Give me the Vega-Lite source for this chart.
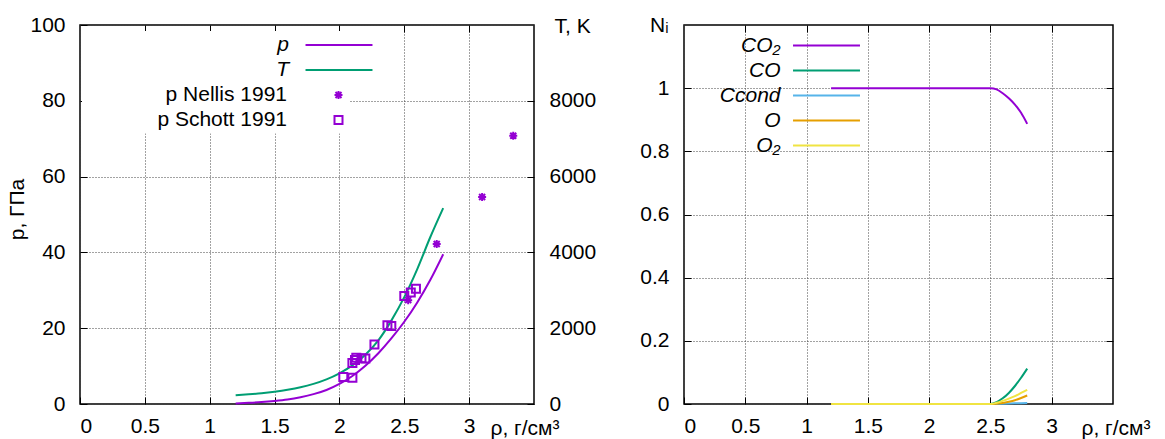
{
  "$schema": "https://vega.github.io/schema/vega-lite/v6.json",
  "padding": {"left": 5, "top": 13, "right": 0, "bottom": 0},
  "background": "white",
  "spacing": 42,
  "resolve": {"scale": {"color": "independent", "shape": "independent"}, "legend": {"color": "independent", "shape": "independent"}},
  "config": {
    "font": "Liberation Sans",
    "view": {"stroke": "black", "strokeWidth": 1.5},
    "axis": {
      "labelFont": "Liberation Sans", "labelFontSize": 21, "labelColor": "black",
      "titleFont": "Liberation Sans", "titleFontSize": 21, "titleFontWeight": "normal", "titleColor": "black",
      "domain": false, "tickColor": "black", "tickSize": -7, "tickWidth": 1,
      "gridColor": "#444", "gridDash": [1, 2], "gridWidth": 1
    },
    "legend": {"labelFont": "Liberation Sans", "labelFontSize": 21, "labelColor": "black"}
  },
  "datasets": {
    "pt": [
      {"rho": 1.2, "p": 0.15, "T": 230}, {"rho": 1.3, "p": 0.3, "T": 255}, {"rho": 1.4, "p": 0.5, "T": 285},
      {"rho": 1.5, "p": 0.8, "T": 325}, {"rho": 1.6, "p": 1.2, "T": 375}, {"rho": 1.7, "p": 1.8, "T": 440},
      {"rho": 1.8, "p": 2.6, "T": 530}, {"rho": 1.9, "p": 3.7, "T": 650}, {"rho": 2.0, "p": 5.3, "T": 810},
      {"rho": 2.1, "p": 7.4, "T": 1020}, {"rho": 2.2, "p": 10.1, "T": 1300}, {"rho": 2.3, "p": 13.4, "T": 1680},
      {"rho": 2.4, "p": 17.3, "T": 2200}, {"rho": 2.5, "p": 21.7, "T": 2820}, {"rho": 2.6, "p": 26.8, "T": 3560},
      {"rho": 2.7, "p": 32.7, "T": 4400}, {"rho": 2.8, "p": 39.5, "T": 5170}
    ],
    "exp": [
      {"rho": 2.53, "p": 27.4, "src": "p Nellis 1991"},
      {"rho": 2.75, "p": 42.2, "src": "p Nellis 1991"},
      {"rho": 3.1, "p": 54.6, "src": "p Nellis 1991"},
      {"rho": 3.34, "p": 70.8, "src": "p Nellis 1991"},
      {"rho": 2.03, "p": 7.1, "src": "p Schott 1991"},
      {"rho": 2.1, "p": 6.9, "src": "p Schott 1991"},
      {"rho": 2.1, "p": 10.8, "src": "p Schott 1991"},
      {"rho": 2.12, "p": 11.6, "src": "p Schott 1991"},
      {"rho": 2.13, "p": 12.2, "src": "p Schott 1991"},
      {"rho": 2.17, "p": 12.1, "src": "p Schott 1991"},
      {"rho": 2.2, "p": 12.0, "src": "p Schott 1991"},
      {"rho": 2.27, "p": 15.7, "src": "p Schott 1991"},
      {"rho": 2.37, "p": 20.8, "src": "p Schott 1991"},
      {"rho": 2.4, "p": 20.6, "src": "p Schott 1991"},
      {"rho": 2.5, "p": 28.5, "src": "p Schott 1991"},
      {"rho": 2.55, "p": 29.4, "src": "p Schott 1991"},
      {"rho": 2.59, "p": 30.4, "src": "p Schott 1991"}
    ],
    "ni": [
      {"rho": 1.2, "s": "CO₂", "N": 1}, {"rho": 1.5, "s": "CO₂", "N": 1}, {"rho": 2.0, "s": "CO₂", "N": 1},
      {"rho": 2.5, "s": "CO₂", "N": 1}, {"rho": 2.55, "s": "CO₂", "N": 0.996}, {"rho": 2.6, "s": "CO₂", "N": 0.984},
      {"rho": 2.65, "s": "CO₂", "N": 0.968}, {"rho": 2.7, "s": "CO₂", "N": 0.948}, {"rho": 2.75, "s": "CO₂", "N": 0.922},
      {"rho": 2.8, "s": "CO₂", "N": 0.887},
      {"rho": 1.2, "s": "CO", "N": 0}, {"rho": 1.5, "s": "CO", "N": 0}, {"rho": 2.0, "s": "CO", "N": 0},
      {"rho": 2.5, "s": "CO", "N": 0}, {"rho": 2.55, "s": "CO", "N": 0.006}, {"rho": 2.6, "s": "CO", "N": 0.018},
      {"rho": 2.65, "s": "CO", "N": 0.035}, {"rho": 2.7, "s": "CO", "N": 0.057}, {"rho": 2.75, "s": "CO", "N": 0.083},
      {"rho": 2.8, "s": "CO", "N": 0.112},
      {"rho": 1.2, "s": "Ccond", "N": 0}, {"rho": 1.5, "s": "Ccond", "N": 0}, {"rho": 2.0, "s": "Ccond", "N": 0},
      {"rho": 2.5, "s": "Ccond", "N": 0}, {"rho": 2.6, "s": "Ccond", "N": 0.001}, {"rho": 2.7, "s": "Ccond", "N": 0.002},
      {"rho": 2.8, "s": "Ccond", "N": 0.003},
      {"rho": 1.2, "s": "O", "N": 0}, {"rho": 1.5, "s": "O", "N": 0}, {"rho": 2.0, "s": "O", "N": 0},
      {"rho": 2.5, "s": "O", "N": 0}, {"rho": 2.55, "s": "O", "N": 0.001}, {"rho": 2.6, "s": "O", "N": 0.003},
      {"rho": 2.65, "s": "O", "N": 0.007}, {"rho": 2.7, "s": "O", "N": 0.012}, {"rho": 2.75, "s": "O", "N": 0.019},
      {"rho": 2.8, "s": "O", "N": 0.027},
      {"rho": 1.2, "s": "O₂", "N": 0}, {"rho": 1.5, "s": "O₂", "N": 0}, {"rho": 2.0, "s": "O₂", "N": 0},
      {"rho": 2.5, "s": "O₂", "N": 0}, {"rho": 2.55, "s": "O₂", "N": 0.004}, {"rho": 2.6, "s": "O₂", "N": 0.01},
      {"rho": 2.65, "s": "O₂", "N": 0.017}, {"rho": 2.7, "s": "O₂", "N": 0.025}, {"rho": 2.75, "s": "O₂", "N": 0.035},
      {"rho": 2.8, "s": "O₂", "N": 0.045}
    ]
  },
  "hconcat": [
    {
      "width": 454, "height": 379,
      "layer": [
        {
          "data": {"name": "pt"},
          "mark": {"type": "line", "strokeWidth": 2, "interpolate": "monotone"},
          "encoding": {
            "x": {"field": "rho", "type": "quantitative",
              "scale": {"domain": [0, 3.5], "nice": false, "zero": false},
              "axis": {"orient": "bottom", "values": [0, 0.5, 1, 1.5, 2, 2.5, 3], "format": "~g", "grid": true, "labelPadding": 18,
                "title": "ρ, г/см³", "titleX": 410, "titleY": 24, "titleAlign": "left", "titleBaseline": "middle", "titleAngle": 0}},
            "y": {"field": "p", "type": "quantitative",
              "scale": {"domain": [0, 100], "nice": false},
              "axis": {"orient": "left", "values": [0, 20, 40, 60, 80, 100], "format": "d", "grid": true, "labelPadding": 22,
                "title": "p, ГПа", "titleX": -63, "titleY": 184, "titleAngle": -90, "titleAlign": "center", "titleBaseline": "middle"}},
            "color": {"datum": "p", "type": "nominal",
              "scale": {"domain": ["p", "T"], "range": ["#9400d3", "#009e73"]},
              "legend": {"orient": "none", "legendX": 2, "legendY": 6, "padding": 3, "fillColor": "white", "title": null,
                "labelAlign": "right", "labelOffset": -61, "symbolOffset": 243, "symbolType": "M-3.5,0L3.5,0",
                "symbolSize": 366, "symbolStrokeWidth": 2, "labelFontStyle": "italic", "rowPadding": 4}}
          }
        },
        {
          "data": {"name": "pt"},
          "mark": {"type": "line", "strokeWidth": 2, "interpolate": "monotone"},
          "encoding": {
            "x": {"field": "rho", "type": "quantitative",
              "scale": {"domain": [0, 3.5], "nice": false, "zero": false},
              "axis": {"orient": "top", "values": [0.5, 1, 1.5, 2, 2.5, 3], "grid": false, "labels": false, "title": null}},
            "y": {"field": "T", "type": "quantitative",
              "scale": {"domain": [0, 10000], "nice": false},
              "axis": {"orient": "right", "values": [0, 2000, 4000, 6000, 8000], "format": "d", "grid": false, "labelPadding": 22,
                "title": "T, K", "titleX": 20, "titleY": 1, "titleAngle": 0, "titleAlign": "left", "titleBaseline": "middle"}},
            "color": {"datum": "T", "type": "nominal"}
          }
        },
        {
          "data": {"name": "exp"},
          "mark": {"type": "point", "filled": false, "strokeWidth": 2, "color": "#9400d3", "size": 64, "opacity": 1},
          "encoding": {
            "x": {"field": "rho", "type": "quantitative", "scale": {"domain": [0, 3.5], "nice": false, "zero": false}, "axis": null},
            "y": {"field": "p", "type": "quantitative", "scale": {"domain": [0, 100], "nice": false}, "axis": null},
            "shape": {"field": "src", "type": "nominal",
              "scale": {"domain": ["p Nellis 1991", "p Schott 1991"],
                "range": ["M-1,0L1,0M0,-1L0,1M-0.75,-0.75L0.75,0.75M-0.75,0.75L0.75,-0.75", "square"]},
              "legend": {"orient": "none", "legendX": 2, "legendY": 56.5, "padding": 3, "fillColor": "white", "title": null,
                "labelAlign": "right", "labelOffset": -62, "symbolOffset": 243, "symbolSize": 64,
                "symbolStrokeColor": "#9400d3", "symbolStrokeWidth": 2, "rowPadding": 3}}
          }
        }
      ],
      "resolve": {"scale": {"y": "independent"}, "axis": {"x": "independent", "y": "independent"}}
    },
    {
      "width": 429, "height": 379,
      "data": {"name": "ni"},
      "layer": [
        {
          "mark": {"type": "line", "strokeWidth": 2, "interpolate": "monotone"},
          "encoding": {
            "x": {"field": "rho", "type": "quantitative",
              "scale": {"domain": [0, 3.5], "nice": false, "zero": false},
              "axis": {"orient": "bottom", "values": [0, 0.5, 1, 1.5, 2, 2.5, 3], "format": "~g", "grid": true, "labelPadding": 18,
                "title": "ρ, г/см³", "titleX": 397, "titleY": 24, "titleAlign": "left", "titleBaseline": "middle", "titleAngle": 0}},
            "y": {"field": "N", "type": "quantitative",
              "scale": {"domain": [0, 1.2], "nice": false},
              "axis": {"orient": "left", "values": [0, 0.2, 0.4, 0.6, 0.8, 1], "format": "~g", "grid": true, "labelPadding": 22,
                "title": "Nᵢ", "titleX": -16, "titleY": 0, "titleAngle": 0, "titleAlign": "right", "titleBaseline": "middle"}},
            "color": {"field": "s", "type": "nominal",
              "scale": {"domain": ["CO₂", "CO", "Ccond", "O", "O₂"], "range": ["#9400d3", "#009e73", "#56b4e9", "#e69f00", "#f0e442"]},
              "sort": ["CO₂", "CO", "Ccond", "O", "O₂"],
              "legend": {"orient": "none", "legendX": 20, "legendY": 9.5, "title": null,
                "labelAlign": "right", "labelOffset": -57, "symbolOffset": 111.5, "symbolType": "M-3.5,0L3.5,0",
                "symbolSize": 366, "symbolStrokeWidth": 2, "labelFontStyle": "italic", "rowPadding": 4}}
          }
        },
        {
          "mark": {"type": "point", "opacity": 0},
          "encoding": {
            "x": {"field": "rho", "type": "quantitative",
              "scale": {"domain": [0, 3.5], "nice": false, "zero": false},
              "axis": {"orient": "top", "values": [0.5, 1, 1.5, 2, 2.5, 3], "grid": false, "labels": false, "title": null}},
            "y": {"field": "N", "type": "quantitative",
              "scale": {"domain": [0, 1.2], "nice": false},
              "axis": {"orient": "right", "values": [0.2, 0.4, 0.6, 0.8, 1], "grid": false, "labels": false, "title": null}}
          }
        }
      ],
      "resolve": {"axis": {"x": "independent", "y": "independent"}}
    }
  ]
}
